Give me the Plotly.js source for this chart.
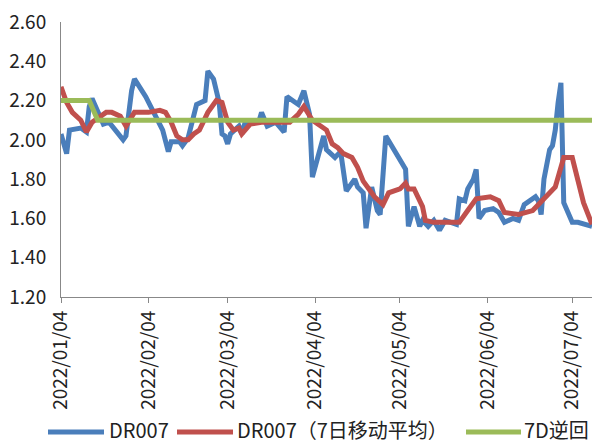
<!DOCTYPE html>
<html><head><meta charset="utf-8">
<script src="https://cdn.plot.ly/plotly-3.0.1.min.js"></script>
<style>html,body{margin:0;padding:0;background:#fff}#chart{width:592px;height:443px}</style>
</head><body><div id="chart"></div>
<script>
const dr007Dates = ['2022-01-04','2022-01-06','2022-01-07','2022-01-11','2022-01-13','2022-01-14','2022-01-15','2022-01-17','2022-01-19','2022-01-21','2022-01-26','2022-01-27','2022-01-29','2022-01-30','2022-02-03','2022-02-09','2022-02-11','2022-02-12','2022-02-15','2022-02-16','2022-02-18','2022-02-21','2022-02-24','2022-02-25','2022-02-27','2022-03-01','2022-03-02','2022-03-03','2022-03-04','2022-03-05','2022-03-08','2022-03-09','2022-03-10','2022-03-15','2022-03-16','2022-03-18','2022-03-21','2022-03-24','2022-03-25','2022-03-28','2022-03-29','2022-03-31','2022-04-02','2022-04-03','2022-04-07','2022-04-08','2022-04-11','2022-04-13','2022-04-15','2022-04-18','2022-04-19','2022-04-21','2022-04-22','2022-04-24','2022-04-26','2022-04-27','2022-04-29','2022-05-06','2022-05-07','2022-05-09','2022-05-11','2022-05-12','2022-05-14','2022-05-16','2022-05-18','2022-05-20','2022-05-24','2022-05-25','2022-05-27','2022-05-28','2022-05-30','2022-05-31','2022-06-01','2022-06-03','2022-06-06','2022-06-08','2022-06-10','2022-06-13','2022-06-15','2022-06-17','2022-06-21','2022-06-22','2022-06-23','2022-06-24','2022-06-26','2022-06-27','2022-06-28','2022-06-29','2022-06-30','2022-07-01','2022-07-04','2022-07-06','2022-07-08','2022-07-11'];
const dr007Values = [2.03,1.93,2.05,2.06,2.04,2.17,2.21,2.15,2.08,2.09,2.00,2.02,2.25,2.31,2.22,2.05,1.94,1.99,1.99,1.97,2.01,2.18,2.20,2.35,2.31,2.19,2.03,2.02,1.98,2.03,2.07,2.03,2.08,2.09,2.14,2.07,2.09,2.04,2.22,2.19,2.18,2.25,2.13,1.81,2.02,1.95,1.91,1.94,1.74,1.80,1.76,1.73,1.55,1.76,1.64,1.62,2.02,1.85,1.56,1.66,1.56,1.59,1.56,1.59,1.54,1.59,1.57,1.70,1.69,1.75,1.80,1.85,1.60,1.64,1.65,1.63,1.58,1.60,1.59,1.67,1.71,1.69,1.62,1.80,1.95,1.97,2.05,2.19,2.29,1.68,1.58,1.58,1.57,1.56];

const maDates = ['2022-01-04','2022-01-06','2022-01-08','2022-01-11','2022-01-13','2022-01-15','2022-01-17','2022-01-20','2022-01-22','2022-01-25','2022-01-27','2022-01-30','2022-02-04','2022-02-08','2022-02-10','2022-02-12','2022-02-14','2022-02-16','2022-02-18','2022-02-20','2022-02-22','2022-02-25','2022-02-28','2022-03-02','2022-03-04','2022-03-06','2022-03-08','2022-03-09','2022-03-12','2022-03-16','2022-03-19','2022-03-22','2022-03-26','2022-03-29','2022-03-31','2022-04-03','2022-04-06','2022-04-08','2022-04-10','2022-04-12','2022-04-14','2022-04-17','2022-04-19','2022-04-21','2022-04-25','2022-04-28','2022-04-30','2022-05-04','2022-05-06','2022-05-07','2022-05-09','2022-05-12','2022-05-13','2022-05-16','2022-05-19','2022-05-25','2022-05-28','2022-05-31','2022-06-05','2022-06-08','2022-06-10','2022-06-15','2022-06-20','2022-06-25','2022-06-28','2022-07-01','2022-07-04','2022-07-08','2022-07-11'];
const maValues = [2.27,2.19,2.14,2.10,2.04,2.09,2.11,2.14,2.14,2.12,2.07,2.14,2.14,2.15,2.14,2.09,2.02,2.00,2.00,2.03,2.05,2.14,2.20,2.19,2.09,2.05,2.06,2.03,2.08,2.09,2.09,2.09,2.09,2.13,2.17,2.10,2.07,2.05,1.98,1.96,1.93,1.91,1.86,1.79,1.71,1.67,1.73,1.75,1.78,1.75,1.75,1.66,1.59,1.58,1.58,1.58,1.64,1.70,1.71,1.69,1.63,1.62,1.64,1.71,1.76,1.91,1.91,1.68,1.57];

const repoDates = ['2022-01-04','2022-01-14','2022-01-17','2022-07-11'];
const repoValues = [2.20,2.20,2.10,2.10];

const tickDates = ['2022-01-04','2022-02-04','2022-03-04','2022-04-04','2022-05-04','2022-06-04','2022-07-04'];
const tickLabels = ['2022/01/04','2022/02/04','2022/03/04','2022/04/04','2022/05/04','2022/06/04','2022/07/04'];
const yTicks = [1.2,1.4,1.6,1.8,2.0,2.2,2.4,2.6];
const yTickLabels = ['1.20','1.40','1.60','1.80','2.00','2.20','2.40','2.60'];
const seriesNames = ['DR007','DR007（7日移动平均）','7D逆回'];
const seriesColors = ['#4a7ebb','#c0504d','#9bbb59'];

const font = '"Noto Sans CJK SC", "Noto Sans", sans-serif';
const W = 592, H = 443, ML = 61, MR = 0, MT = 22, MB = 146;
const pw = W - ML - MR, ph = H - MT - MB;
const px = X => (X - ML) / pw;
const py = Y => (H - MB - Y) / ph;

const traces = [
  {x: dr007Dates, y: dr007Values, name: seriesNames[0], type:'scatter', mode:'lines', line:{color:seriesColors[0], width:5}},
  {x: maDates, y: maValues, name: seriesNames[1], type:'scatter', mode:'lines', line:{color:seriesColors[1], width:5}},
  {x: repoDates, y: repoValues, name: seriesNames[2], type:'scatter', mode:'lines', line:{color:seriesColors[2], width:5}}
];

// custom legend (long line keys as in the original)
const legLineY = 432, legTextY = 429;
const legKeys = [[48,104,108],[177,233,236],[466,521,523]];
const shapes = legKeys.map((k,i) => ({type:'line', xref:'paper', yref:'paper', x0:px(k[0]), x1:px(k[1]), y0:py(legLineY), y1:py(legLineY), line:{color:seriesColors[i], width:5}}));
const annotations = legKeys.map((k,i) => ({xref:'paper', yref:'paper', x:px(k[2]), y:py(legTextY), xanchor:'left', yanchor:'middle', text:seriesNames[i], showarrow:false, borderpad:0, font:{family:font, size:20, color:'#222'}}));

const layout = {
  width:W, height:H,
  margin:{l:ML, r:MR, t:MT, b:MB},
  paper_bgcolor:'#fff', plot_bgcolor:'#fff',
  showlegend:false,
  shapes: shapes, annotations: annotations,
  xaxis:{type:'date', range:['2022-01-04','2022-07-11'], tickvals:tickDates, ticktext:tickLabels, tickangle:-90,
    showgrid:false, zeroline:false, showline:true, linecolor:'#888', linewidth:1, ticks:'outside', ticklen:5, tickcolor:'#888',
    tickfont:{family:font, size:19, color:'#222'}},
  yaxis:{range:[1.2,2.6], tickvals:yTicks, ticktext:yTickLabels, showgrid:false, zeroline:false, showline:true, linecolor:'#888', linewidth:1,
    ticks:'', ticklabelstandoff:10, tickfont:{family:font, size:19, color:'#222'}}
};
Plotly.newPlot('chart', traces, layout, {displayModeBar:false, staticPlot:true});
</script></body></html>
